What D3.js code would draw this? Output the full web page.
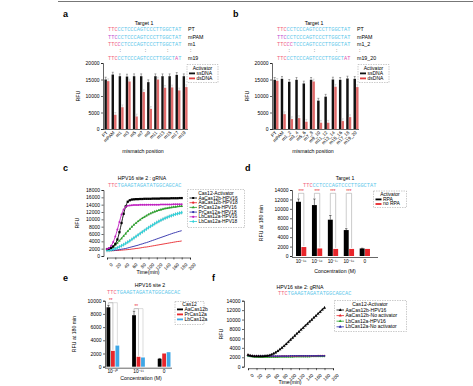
<!DOCTYPE html>
<html><head><meta charset="utf-8">
<script src="https://cdn.jsdelivr.net/npm/d3@7"></script>
<style>body{margin:0;background:#fff}svg{display:block}</style>
</head><body><svg id="c" width="473" height="386"></svg>
<script>
// ---------- DATA ----------
const catsA = ["PT","mPAM","m1","m3","m5","m7","m9","m11","m13","m15","m17","m19"];
const ssA = [15000,16500,16000,15900,16000,16000,14200,16000,16000,16000,16400,16000];
const dsA = [14500,4300,6600,14400,3800,11200,6100,15000,12500,12600,11700,12700];
const catsB = ["PT","mPAM","m1_2","m3_4","m5_6","m7_8","m9_10","m11_12","m13_14","m15_16","m17_18","m19_20"];
const ssB = [14900,15200,14300,14900,13800,14900,8600,9800,15000,14900,15300,15200];
const dsB = [14600,4500,3000,3300,2200,14400,1900,1900,12800,2400,3600,12700];
const errAB = 700;

const seqT1 = "TTCCCTCCCAGTCCCTTGGCTAT";
const seqHPV = "TTCTGAAGTAGATATGGCAGCAC";
const rowLabelsA = ["PT","mPAM","m1",":","m19"];
const rowLabelsB = ["PT","mPAM","m1_2",":","m19_20"];
const mismA = [[],[],[3],[],[21]];
const mismB = [[],[],[3,4],[],[21,22]];

const times = [0,5,10,15,20,25,30,35,40,45,50,55,60,65,70,75,80,85,90,95,100,105,110,115,120,125,130,135,140,145,150,155,160,165,170,175,180];
const timeTicks = [0,20,40,60,80,100,120,140,160,180,200];
const cNames = ["AaCas12b-HPV16","AaCas12b-HPV18","PrCas12a-HPV16","PrCas12a-HPV18","LbCas12a-HPV16","LbCas12a-HPV18"];
const cAaH16 = [1900,2000,2200,2600,3300,4500,6500,9000,11500,13500,14800,15200,15400,15450,15500,15500,15550,15550,15600,15600,15600,15600,15650,15650,15650,15650,15700,15700,15700,15700,15700,15750,15750,15750,15750,15800,15800];
const cAaH18 = [1500,1450,1450,1450,1500,1500,1550,1600,1650,1700,1750,1800,1900,1950,2050,2100,2200,2300,2400,2450,2550,2650,2750,2850,2950,3050,3150,3250,3350,3450,3550,3650,3750,3850,3950,4000,4100];
const cPrH16 = [1800,1950,2200,2550,3000,3550,4150,4800,5450,6100,6750,7350,7950,8500,9000,9450,9900,10300,10650,11000,11300,11600,11850,12100,12300,12500,12650,12800,12950,13050,13150,13250,13350,13400,13500,13550,13600];
const cPrH18 = [1500,1500,1500,1550,1600,1650,1750,1850,1950,2050,2200,2350,2500,2650,2800,2950,3150,3300,3500,3650,3850,4050,4250,4450,4650,4850,5050,5250,5450,5650,5850,6050,6250,6400,6600,6750,6900];
const cLbH16 = [1900,2200,2800,3800,5300,7200,9300,11300,12700,13400,13700,13800,13850,13900,13900,13900,13950,13950,13950,13950,14000,14000,14000,14000,14000,14000,14050,14050,14050,14050,14050,14050,14100,14100,14100,14100,14100];
const cLbH18 = [1500,1550,1650,1800,2000,2250,2500,2800,3100,3450,3800,4150,4550,4950,5350,5750,6150,6550,6950,7350,7750,8100,8450,8800,9150,9450,9750,10050,10300,10550,10800,11000,11200,11400,11550,11700,11850];
const cColors = ["#000000","#e8262b","#2ca02c","#2a2aa8","#c020c0","#30d0d8"];

const concD = ["10\u207B\u00B9\u2075","10\u207B\u00B9\u2076","10\u207B\u00B9\u2077","10\u207B\u00B9\u2078","0"];
const rpaD = [11500,10800,7700,5500,1600];
const noRpaD = [1900,1600,1500,1500,1500];
const errRpaD = [600,1300,900,300,50];
const sigD = [true,true,true,true,false];

const concE = ["10\u207B\u00B9\u2070","10\u207B\u00B9\u00B9","0"];
const aaE = [9000,7800,1200];
const prE = [2400,1500,2000];
const lbE = [3200,1400,2200];
const errAaE = [300,600,50];

const fNames = ["AaCas12b-HPV16","AaCas12b-No activator","LbCas12a-HPV16","LbCas12a-No activator"];
const fAaH16 = [2500,2350,2250,2200,2200,2200,2200,2200,2250,2300,2400,2550,2750,3000,3300,3650,4000,4400,4800,5250,5700,6100,6550,7000,7400,7850,8250,8700,9100,9550,9950,10400,10800,11250,11650,12100,12500];
const fAaNo = [2450,2350,2300,2250,2250,2250,2200,2200,2200,2200,2200,2200,2200,2200,2200,2200,2250,2250,2250,2250,2250,2250,2250,2250,2300,2300,2300,2300,2300,2300,2300,2300,2300,2350,2350,2350,2350];
const fLbH16 = [2200,2150,2100,2050,2050,2000,2000,2000,2000,2000,2000,2000,2000,2000,2000,2050,2050,2050,2050,2050,2050,2050,2100,2100,2100,2100,2100,2100,2100,2100,2150,2150,2150,2150,2150,2150,2150];
const fLbNo = [2350,2300,2250,2250,2250,2250,2250,2250,2250,2250,2250,2250,2250,2250,2250,2250,2250,2250,2250,2250,2300,2300,2300,2300,2300,2300,2300,2300,2300,2300,2300,2300,2300,2300,2300,2300,2300];
const fColors = ["#000000","#e8262b","#2ca02c","#2a2aa8"];

// ---------- HELPERS ----------
const svg = d3.select("#c");
const FONT = "'Liberation Sans', Arial, sans-serif";
const MONO = "'Liberation Mono', 'DejaVu Sans Mono', monospace";
const PAM = "#f0607a", MIS = "#e050b0", CYAN = "#5cc6ea";

function txt(x,y,s,fs,opt={}){
  const t = svg.append("text").attr("x",x).attr("y",y).text(s)
    .attr("font-family",FONT).attr("font-size",fs).attr("fill",opt.fill||"#000")
    .attr("text-anchor",opt.anchor||"middle");
  if(opt.bold) t.attr("font-weight","bold");
  if(opt.rot!==undefined) t.attr("transform",`rotate(${opt.rot},${x},${y})`);
  return t;
}
function styleAxis(g,fs){
  g.selectAll("path,line").attr("stroke","#000").attr("stroke-width",0.6);
  g.selectAll("text").attr("font-size",fs).attr("fill","#000").attr("font-family",FONT);
}
function seqRow(x,y,seq,pamColor,mis){
  const t = svg.append("text").attr("x",x).attr("y",y).attr("font-family",MONO).attr("font-size",5.3);
  seq.split("").forEach((c,i)=>{
    let col = i<3 ? pamColor : (mis.includes(i) ? MIS : CYAN);
    t.append("tspan").attr("fill",col).text(c);
  });
}
function yAxis(y,xpos,ticks,fs){
  const g = svg.append("g").attr("transform",`translate(${xpos},0)`)
    .call(d3.axisLeft(y).tickValues(ticks).tickSize(2).tickPadding(1.5).tickFormat(d3.format("d")));
  styleAxis(g,fs); return g;
}
function legendBox(x,y,w,h){
  svg.append("rect").attr("x",x).attr("y",y).attr("width",w).attr("height",h)
    .attr("fill","none").attr("stroke","#999").attr("stroke-width",0.5).attr("stroke-dasharray","1.5,1");
}

// top rule
svg.append("line").attr("x1",58).attr("x2",473).attr("y1",1.5).attr("y2",1.5).attr("stroke","#777").attr("stroke-width",1);

// ---------- PANELS a / b ----------
function mismatchPanel(letterX, cats, ss, ds, rowLabels, mism, xr, axisX, seqX, labX){
  const y = d3.scaleLinear().domain([0,20000]).range([129,63]);
  const x = d3.scaleBand().domain(cats).range(xr).paddingInner(0.28).paddingOuter(0.05);
  const sub = d3.scaleBand().domain(["ss","ds"]).range([0,x.bandwidth()]).padding(0.04);
  const cx = (xr[0]+xr[1])/2;
  txt(letterX,17,letterX<100?"a":"b",9,{bold:true,anchor:"start"});
  txt(cx-2,25,"Target 1",5.2);
  const rowY = [31,38.5,45.5,52,59.5];
  rowLabels.forEach((lab,i)=>{
    if(lab===":"){
      [0.17,0.52,0.83].forEach(f=>txt(seqX+f*72,rowY[i],":",5.2));
      txt(labX+2,rowY[i],":",5.2,{anchor:"start"});
    } else {
      seqRow(seqX,rowY[i],seqT1,i===1?"#c050d0":PAM,mism[i]);
      txt(labX,rowY[i],lab,5.3,{anchor:"start"});
    }
  });
  yAxis(y,axisX,[0,5000,10000,15000,20000],5);
  svg.append("line").attr("x1",axisX).attr("x2",xr[1]).attr("y1",y(0)+0.5).attr("y2",y(0)+0.5).attr("stroke","#000").attr("stroke-width",0.6);
  txt(axisX-23,96,"RFU",5.3,{rot:-90});
  cats.forEach((c,i)=>{
    [["ss",ss[i],"#111"],["ds",ds[i],"#e06a6a"]].forEach(([k,v,col])=>{
      const bx = x(c)+sub(k), bw = sub.bandwidth();
      svg.append("rect").attr("x",bx).attr("y",y(v)).attr("width",bw).attr("height",y(0)-y(v)).attr("fill",col);
      const ec = k==="ss"?"#555":"#bbb";
      svg.append("line").attr("x1",bx+bw/2).attr("x2",bx+bw/2).attr("y1",y(v+errAB)).attr("y2",y(v)).attr("stroke",ec).attr("stroke-width",0.5);
      svg.append("line").attr("x1",bx+bw/2-1).attr("x2",bx+bw/2+1).attr("y1",y(v+errAB)).attr("y2",y(v+errAB)).attr("stroke",ec).attr("stroke-width",0.5);
    });
    const lx = x(c)+x.bandwidth()/2+1, ly = y(0)+4;
    txt(lx,ly,c,4.6,{anchor:"end",rot:-45});
  });
  txt(cx-3,153,"mismatch position",5.2);
  // legend
  const lx0 = xr[1]-1;
  legendBox(lx0,64.5,31,18);
  txt(lx0+15.5,69.5,"Activator",5);
  [["ssDNA","#111"],["dsDNA","#e04040"]].forEach(([n,col],i)=>{
    svg.append("rect").attr("x",lx0+2).attr("y",72.5+i*5).attr("width",6).attr("height",1.8).attr("fill",col);
    txt(lx0+9.5,74.8+i*5,n,5,{anchor:"start"});
  });
}
mismatchPanel(63,catsA,ssA,dsA,rowLabelsA,mismA,[104,188],103,108,188);
mismatchPanel(233,catsB,ssB,dsB,rowLabelsB,mismB,[273,359],272,277,357);

// ---------- PANEL c ----------
(function(){
  const x = d3.scaleLinear().domain([0,200]).range([107,190]);
  const y = d3.scaleLinear().domain([0,18000]).range([256,190]);
  txt(63,171,"c",9,{bold:true,anchor:"start"});
  txt(142,180,"HPV16 site 2 : gRNA",5.2);
  seqRow(108,186.5,seqHPV,PAM,[]);
  yAxis(y,103.5,d3.range(0,18001,2000),5);
  const gx = svg.append("g").attr("transform",`translate(0,${y(0)+1.5})`)
    .call(d3.axisBottom(x).tickValues(timeTicks).tickSize(2).tickFormat(d3.format("d")));
  styleAxis(gx,4.6);
  gx.selectAll("text").attr("text-anchor","end").attr("dy",0).attr("dx",0).attr("transform","translate(2,4) rotate(-45)");
  txt(79,223,"RFU",5.3,{rot:-90});
  txt(148,274,"Time(min)",5.2);
  const series = [cAaH16,cAaH18,cPrH16,cPrH18,cLbH16,cLbH18];
  const syms = [d3.symbolSquare,d3.symbolCircle,d3.symbolTriangle,d3.symbolCircle,d3.symbolCircle,d3.symbolDiamond];
  const msize = [5,0,3,0,3,4];
  const line = d3.line().x((d,i)=>x(times[i])).y(d=>y(d)).curve(d3.curveMonotoneX);
  [[cLbH18,500],[cPrH16,300],[cAaH16,250]].forEach(([arr,e])=>{
    arr.forEach((v,i)=>{
      svg.append("line").attr("x1",x(times[i])).attr("x2",x(times[i])).attr("y1",y(v-e)).attr("y2",y(v+e)).attr("stroke","#888").attr("stroke-width",0.5);
    });
  });
  [1,3,2,5,0,4].forEach(k=>{
    svg.append("path").datum(series[k]).attr("d",line).attr("fill","none").attr("stroke",cColors[k]).attr("stroke-width",0.9);
    if(msize[k]>0) series[k].forEach((v,i)=>{
      svg.append("path").attr("d",d3.symbol(syms[k],msize[k])()).attr("transform",`translate(${x(times[i])},${y(v)})`).attr("fill",cColors[k]);
    });
  });
  legendBox(187.5,189.5,57,38);
  txt(216,194.5,"Cas12-Activator",5);
  cNames.forEach((n,i)=>{
    const ly = 199.5+i*4.7;
    svg.append("line").attr("x1",189.5).attr("x2",197).attr("y1",ly-1.5).attr("y2",ly-1.5).attr("stroke",cColors[i]).attr("stroke-width",0.8);
    svg.append("path").attr("d",d3.symbol(syms[i],4)()).attr("transform",`translate(193.2,${ly-1.5})`).attr("fill",cColors[i]);
    txt(198.5,ly,n,4.8,{anchor:"start"});
  });
})();

// ---------- PANEL d ----------
(function(){
  const y = d3.scaleLinear().domain([0,14000]).range([256,190]);
  const x = d3.scaleBand().domain(concD).range([294,372]).paddingInner(0.3).paddingOuter(0.1);
  const sub = d3.scaleBand().domain(["rpa","no"]).range([0,x.bandwidth()]).padding(0.08);
  txt(245,171,"d",9,{bold:true,anchor:"start"});
  txt(345,180,"Target 1",5.2);
  seqRow(303,186.5,seqT1,PAM,[]);
  yAxis(y,292,d3.range(0,14001,2000),5);
  svg.append("line").attr("x1",292).attr("x2",378).attr("y1",y(0)+1.5).attr("y2",y(0)+1.5).attr("stroke","#000").attr("stroke-width",0.6);
  txt(263,223,"RFU at 180 min",5.2,{rot:-90});
  concD.forEach((c,i)=>{
    const bw = sub.bandwidth();
    const xr = x(c)+sub("rpa"), xn = x(c)+sub("no");
    svg.append("rect").attr("x",xr).attr("y",y(rpaD[i])).attr("width",bw).attr("height",y(0)-y(rpaD[i])).attr("fill","#000");
    svg.append("rect").attr("x",xn).attr("y",y(noRpaD[i])).attr("width",bw).attr("height",y(0)-y(noRpaD[i])).attr("fill","#e8262b");
    const et = rpaD[i]+errRpaD[i];
    svg.append("line").attr("x1",xr+bw/2).attr("x2",xr+bw/2).attr("y1",y(et)).attr("y2",y(rpaD[i])).attr("stroke","#000").attr("stroke-width",0.5);
    svg.append("line").attr("x1",xr+bw/2-1.2).attr("x2",xr+bw/2+1.2).attr("y1",y(et)).attr("y2",y(et)).attr("stroke","#000").attr("stroke-width",0.5);
    if(sigD[i]){
      const hb = 13300;
      svg.append("path").attr("d",`M${xr+bw/2},${y(et)-1}V${y(hb)}H${xn+bw/2}V${y(noRpaD[i])-1}`)
        .attr("fill","none").attr("stroke","#999").attr("stroke-width",0.5);
      txt((xr+xn+bw)/2,y(hb)-0.3,"***",4.5,{fill:"#e8262b"});
    }
    txt(x(c)+x.bandwidth()/2,263,c,4.8);
  });
  txt(335,273,"Concentration (M)",5.2);
  legendBox(373.5,191,33,16.5);
  txt(390,195.5,"Activator",5);
  [["RPA","#000"],["no RPA","#e8262b"]].forEach(([n,col],i)=>{
    svg.append("rect").attr("x",375.5).attr("y",198.5+i*4.6).attr("width",6).attr("height",1.8).attr("fill",col);
    txt(383,200.6+i*4.6,n,5,{anchor:"start"});
  });
})();

// ---------- PANEL e ----------
(function(){
  const y = d3.scaleLinear().domain([0,10000]).range([366.7,300.7]);
  const x = d3.scaleBand().domain(concE).range([102,175]).paddingInner(0.45).paddingOuter(0.15);
  const sub = d3.scaleBand().domain(["aa","pr","lb"]).range([0,x.bandwidth()]).padding(0.15);
  const cols = ["#000","#e8262b","#3fa7e6"];
  txt(63,281,"e",9,{bold:true,anchor:"start"});
  txt(150,287,"HPV16 site 2",5.2);
  seqRow(107,293.5,seqHPV,PAM,[]);
  yAxis(y,105,d3.range(0,10001,2000),5);
  svg.append("line").attr("x1",105).attr("x2",172).attr("y1",y(0)+1.5).attr("y2",y(0)+1.5).attr("stroke","#000").attr("stroke-width",0.6);
  txt(76,334,"RFU at 180 min",5.2,{rot:-90});
  concE.forEach((c,i)=>{
    const vals = [aaE[i],prE[i],lbE[i]];
    const bw = sub.bandwidth();
    ["aa","pr","lb"].forEach((k,j)=>{
      svg.append("rect").attr("x",x(c)+sub(k)).attr("y",y(vals[j])).attr("width",bw).attr("height",y(0)-y(vals[j])).attr("fill",cols[j]);
    });
    const xa = x(c)+sub("aa")+bw/2, et = aaE[i]+errAaE[i];
    svg.append("line").attr("x1",xa).attr("x2",xa).attr("y1",y(et)).attr("y2",y(aaE[i])).attr("stroke","#000").attr("stroke-width",0.5);
    svg.append("line").attr("x1",xa-1.2).attr("x2",xa+1.2).attr("y1",y(et)).attr("y2",y(et)).attr("stroke","#000").attr("stroke-width",0.5);
    if(i<2){
      const hb = et+400;
      const xp = x(c)+sub("pr")+bw/2, xl = x(c)+sub("lb")+bw/2;
      svg.append("path").attr("d",`M${xa},${y(et)-1}V${y(hb)}H${xp}V${y(prE[i])-1}`).attr("fill","none").attr("stroke","#999").attr("stroke-width",0.5);
      svg.append("path").attr("d",`M${xa+0.8},${y(hb)}H${xl}V${y(lbE[i])-1}`).attr("fill","none").attr("stroke","#bbb").attr("stroke-width",0.5);
      txt((xa+xp)/2,y(hb)-0.3,"**",4.5,{fill:"#e8262b"});
    }
    txt(x(c)+x.bandwidth()/2,373,c,4.8);
  });
  txt(141,379.5,"Concentration (M)",5.2);
  legendBox(175,301.5,29,23);
  txt(189.5,306,"Cas12",5);
  ["AaCas12b","PrCas12a","LbCas12a"].forEach((n,i)=>{
    svg.append("rect").attr("x",177).attr("y",308.5+i*5).attr("width",6).attr("height",1.8).attr("fill",cols[i]);
    txt(184.5,310.8+i*5,n,5,{anchor:"start"});
  });
})();

// ---------- PANEL f ----------
(function(){
  const x = d3.scaleLinear().domain([0,200]).range([248,333]);
  const y = d3.scaleLinear().domain([0,14000]).range([366.7,300.7]);
  txt(212,281,"f",9,{bold:true,anchor:"start"});
  txt(300,289,"HPV16 site 2: gRNA",5.2);
  seqRow(278,295,seqHPV,PAM,[]);
  yAxis(y,244,d3.range(0,14001,2000),5);
  const gx = svg.append("g").attr("transform",`translate(0,${y(0)+1.5})`)
    .call(d3.axisBottom(x).tickValues(timeTicks).tickSize(2).tickFormat(d3.format("d")));
  styleAxis(gx,4.6);
  gx.selectAll("text").attr("text-anchor","end").attr("dy",0).attr("dx",0).attr("transform","translate(2,4) rotate(-45)");
  txt(223,334,"RFU",5.3,{rot:-90});
  txt(290,384,"Time(min)",5.2);
  const series = [fAaH16,fAaNo,fLbH16,fLbNo];
  const line = d3.line().x((d,i)=>x(times[i])).y(d=>y(d)).curve(d3.curveMonotoneX);
  fAaH16.forEach((v,i)=>{
    svg.append("line").attr("x1",x(times[i])).attr("x2",x(times[i])).attr("y1",y(v-350)).attr("y2",y(v+350)).attr("stroke","#888").attr("stroke-width",0.5);
  });
  [2,1,3,0].forEach(k=>{
    svg.append("path").datum(series[k]).attr("d",line).attr("fill","none").attr("stroke",fColors[k]).attr("stroke-width",0.9);
    series[k].forEach((v,i)=>{
      svg.append("path").attr("d",d3.symbol(k===0?d3.symbolTriangle:d3.symbolCircle,k===0?4:2)()).attr("transform",`translate(${x(times[i])},${y(v)})`).attr("fill",fColors[k]);
    });
  });
  legendBox(334.5,300.5,72,31);
  txt(370,305.5,"Cas12-Activator",5);
  fNames.forEach((n,i)=>{
    const ly = 311.5+i*5.6;
    svg.append("line").attr("x1",336.5).attr("x2",344).attr("y1",ly-1.5).attr("y2",ly-1.5).attr("stroke",fColors[i]).attr("stroke-width",0.8);
    svg.append("path").attr("d",d3.symbol(d3.symbolTriangle,4)()).attr("transform",`translate(340.2,${ly-1.5})`).attr("fill",fColors[i]);
    txt(345.5,ly,n,5,{anchor:"start"});
  });
})();
</script></body></html>
